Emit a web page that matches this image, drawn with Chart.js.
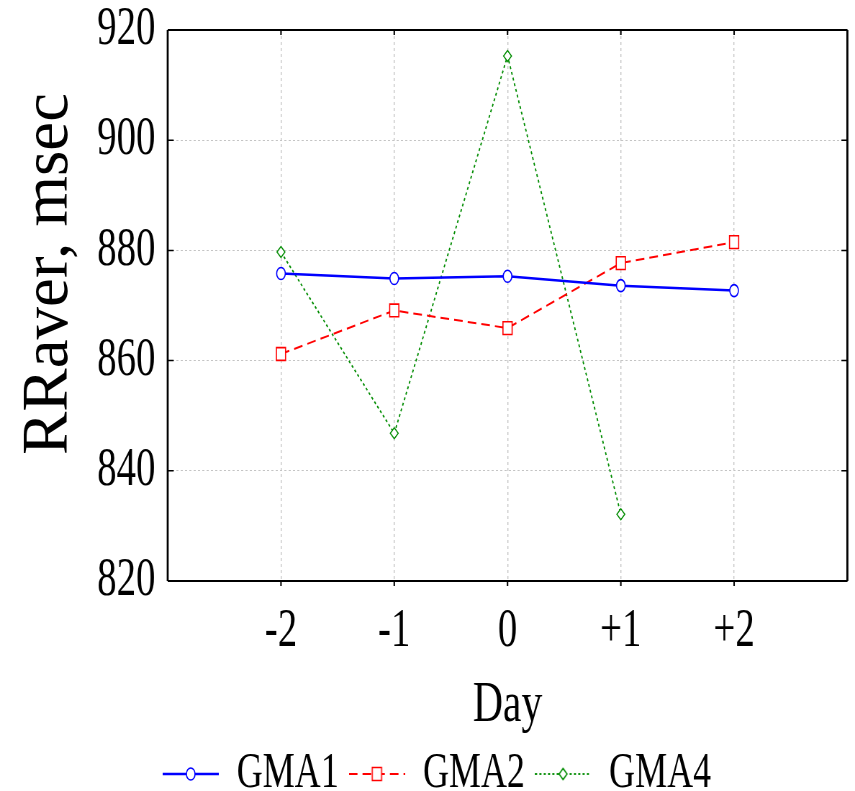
<!DOCTYPE html>
<html>
<head>
<meta charset="utf-8">
<title>RRaver by day</title>
<script src="https://cdn.jsdelivr.net/npm/chart.js@4/dist/chart.umd.min.js"></script>
<style>
html, body { margin: 0; padding: 0; overflow: hidden; background: #fff; }
/* the source figure is squeezed sideways, so the chart is drawn wide and squeezed */
#wrap { position: relative; width: 1188px; height: 791px; transform: scaleX(0.719697); transform-origin: 0 0; }
</style>
</head>
<body>
<div id="wrap"><canvas id="chart"></canvas></div>
<script>
const days = [-2, -1, 0, 1, 2];
const dayLabels = ['-2', '-1', '0', '+1', '+2'];
const yTicks = [820, 840, 860, 880, 900, 920];

const gma1 = [875.8, 874.9, 875.3, 873.6, 872.7];
const gma2 = [861.2, 869.1, 865.9, 877.7, 881.5];
const gma4 = [879.7, 846.8, 915.3, 832.1];

const squeeze = 855 / 1188;
const serif = "'Liberation Serif', 'Times New Roman', serif";

function points(vals) {
	return vals.map((v, i) => ({x: days[i], y: v}));
}

// small picture for the legend: line sample with the marker in the middle
function legendIcon(color, dash, width, marker) {
	const c = document.createElement('canvas');
	c.width = 78;
	c.height = 26;
	const ctx = c.getContext('2d');
	ctx.strokeStyle = color;
	ctx.lineWidth = width;
	ctx.setLineDash(dash);
	ctx.beginPath();
	ctx.moveTo(0, 13);
	ctx.lineTo(78, 13);
	ctx.stroke();
	ctx.setLineDash([]);
	ctx.lineWidth = 1.6;
	ctx.fillStyle = '#fff';
	ctx.beginPath();
	if (marker === 'circle') {
		ctx.arc(39, 13, 6, 0, Math.PI * 2);
	} else if (marker === 'rect') {
		ctx.rect(32.5, 6.5, 13, 13);
	} else {
		ctx.moveTo(33.5, 13); ctx.lineTo(39, 7.5); ctx.lineTo(44.5, 13); ctx.lineTo(39, 18.5); ctx.closePath();
	}
	ctx.fill();
	ctx.stroke();
	return c;
}

const legendIcons = [
	legendIcon('#0000ff', [], 2.5, 'circle'),
	legendIcon('#ff0000', [12, 7], 2, 'rect'),
	legendIcon('#008c00', [3, 3], 1.8, 'diamond')
];

const framePlugin = {
	id: 'frame',
	afterDatasetsDraw(chart) {
		const {ctx, chartArea: a, scales: {x, y}} = chart;
		ctx.save();
		ctx.strokeStyle = '#000';
		ctx.setLineDash([]);
		ctx.lineWidth = 1.5 / squeeze;
		ctx.beginPath();
		days.forEach(d => {
			const px = x.getPixelForValue(d);
			ctx.moveTo(px, a.top); ctx.lineTo(px, a.top + 5);
			ctx.moveTo(px, a.bottom); ctx.lineTo(px, a.bottom + 5);
		});
		ctx.stroke();
		ctx.lineWidth = 1.5;
		ctx.beginPath();
		yTicks.forEach(v => {
			const py = y.getPixelForValue(v);
			ctx.moveTo(a.left, py); ctx.lineTo(a.left + 6 / squeeze, py);
			ctx.moveTo(a.right, py); ctx.lineTo(a.right - 6 / squeeze, py);
		});
		ctx.stroke();
		ctx.lineWidth = 2;
		ctx.beginPath();
		ctx.moveTo(a.left, a.top); ctx.lineTo(a.right, a.top);
		ctx.moveTo(a.left, a.bottom); ctx.lineTo(a.right, a.bottom);
		ctx.stroke();
		ctx.lineWidth = 2 / squeeze;
		ctx.beginPath();
		ctx.moveTo(a.left, a.top); ctx.lineTo(a.left, a.bottom);
		ctx.moveTo(a.right, a.top); ctx.lineTo(a.right, a.bottom);
		ctx.stroke();
		ctx.restore();
	},
	afterDraw(chart) {
		// y title is not squeezed in the source, so undo the squeeze here
		const ctx = chart.ctx;
		ctx.save();
		ctx.translate(67 / squeeze, 274);
		ctx.scale(1 / squeeze, 1);
		ctx.rotate(-Math.PI / 2);
		ctx.fillStyle = '#000';
		ctx.font = '65px ' + serif;
		ctx.textAlign = 'center';
		ctx.textBaseline = 'alphabetic';
		ctx.fillText('RRaver, msec', 0, 0);
		ctx.restore();
	}
};

const tickFont = {family: serif, size: 54, lineHeight: 1};

new Chart(document.getElementById('chart'), {
	type: 'line',
	data: {
		datasets: [
			{
				label: 'GMA1', data: points(gma1),
				borderColor: '#0000ff', borderWidth: 2.5,
				pointStyle: 'circle', pointRadius: 6, pointBorderWidth: 1.6,
				pointBackgroundColor: '#fff', pointBorderColor: '#0000ff'
			},
			{
				label: 'GMA2', data: points(gma2),
				borderColor: '#ff0000', borderWidth: 2, borderDash: [12, 7],
				pointStyle: 'rect', pointRadius: 9, pointBorderWidth: 1.6,
				pointBackgroundColor: '#fff', pointBorderColor: '#ff0000'
			},
			{
				label: 'GMA4', data: points(gma4),
				borderColor: '#008c00', borderWidth: 1.8, borderDash: [3, 3],
				pointStyle: 'rectRot', pointRadius: 5.5, pointBorderWidth: 1.4,
				pointBackgroundColor: '#fff', pointBorderColor: '#008c00'
			}
		]
	},
	options: {
		responsive: true,
		maintainAspectRatio: false,
		animation: false,
		// left padding only moves the legend row; the y axis width makes up for it
		layout: {padding: {top: 30, right: 10, left: 36, bottom: -18}},
		plugins: {
			tooltip: {enabled: false},
			legend: {
				position: 'bottom',
				labels: {
					usePointStyle: true,
					pointStyleWidth: 78,
					boxHeight: 24,
					color: '#000',
					padding: 14,
					font: {family: serif, size: 50, lineHeight: 1},
					generateLabels: chart => chart.data.datasets.map((ds, i) => ({
						text: ds.label,
						pointStyle: legendIcons[i],
						fillStyle: 'transparent',
						strokeStyle: 'transparent',
						lineWidth: 0,
						hidden: false,
						datasetIndex: i,
						fontColor: '#000'
					}))
				}
			}
		},
		scales: {
			x: {
				type: 'linear', min: -3, max: 3,
				afterBuildTicks: s => { s.ticks = [-3].concat(days, [3]).map(v => ({value: v})); },
				ticks: {
					color: '#000', font: tickFont, padding: 24, maxRotation: 0, autoSkip: false,
					callback: v => {
						const i = days.indexOf(v);
						return i < 0 ? null : dayLabels[i];
					}
				},
				grid: {color: '#c4c4c4', lineWidth: 1 / squeeze, drawTicks: false},
				border: {display: false, dash: [3, 3]},
				title: {display: true, text: 'Day', color: '#000', font: {family: serif, size: 58, lineHeight: 1}, padding: 0},
				afterFit: s => { s.height = 154; s.paddingLeft = 0; s.paddingRight = 0; }
			},
			y: {
				min: 820, max: 920,
				afterBuildTicks: s => { s.ticks = yTicks.map(v => ({value: v})); },
				ticks: {color: '#000', font: tickFont, padding: 17},
				grid: {color: '#c4c4c4', lineWidth: 1, drawTicks: false},
				border: {display: false, dash: [3, 3]},
				afterFit: s => { s.width = 197; s.paddingTop = 0; s.paddingBottom = 0; }
			}
		}
	},
	plugins: [framePlugin]
});
</script>
</body>
</html>
